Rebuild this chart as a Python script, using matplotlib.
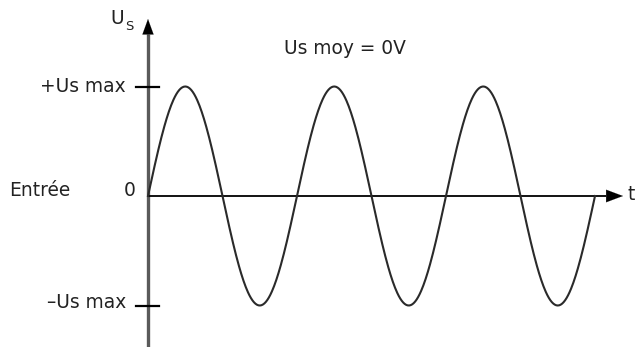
"""Sine wave output diagram: Us oscillating between +Us max and -Us max."""

import matplotlib.pyplot as plt
import numpy as np

# --- Data -----------------------------------------------------------------
# Time in periods, voltage in units of Us max.
N_PERIODS = 3
US_MAX = 1.0
US_MOY = 0.0
t = np.linspace(0, N_PERIODS, 600)
us = US_MAX * np.sin(2 * np.pi * t)

LEVEL_VALUES = [US_MAX, US_MOY, -US_MAX]
LEVEL_LABELS = ["+Us max", "0", "\u2013Us max"]

# --- Layout (pixel mapping) -----------------------------------------------
W, H, DPI = 635, 347, 100
X0_PX, PX_PER_PERIOD = 148, 149      # t = 0 position, width of one period
Y0_PX, PX_PER_UNIT = 196, 109.5      # U = 0 position (from top), amplitude

xlim = (-X0_PX / PX_PER_PERIOD, (W - X0_PX) / PX_PER_PERIOD)
ylim = (-(H - Y0_PX) / PX_PER_UNIT, Y0_PX / PX_PER_UNIT)


def tx(px):
    return (px - X0_PX) / PX_PER_PERIOD


def uy(py):
    return (Y0_PX - py) / PX_PER_UNIT


TXT = "#222222"
FS = 13.4

fig = plt.figure(figsize=(W / DPI, H / DPI), dpi=DPI)
ax = fig.add_axes([0, 0, 1, 1])
ax.set_xlim(*xlim)
ax.set_ylim(*ylim)
ax.axis("off")

# vertical axis (grey, thick) with arrow
ax.plot([0, 0], [ylim[0], uy(34)], color="#5a5a5a", lw=2.4, solid_capstyle="butt")
ax.annotate("", xy=(0, uy(19)), xytext=(0, uy(36)),
            arrowprops=dict(arrowstyle="-|>,head_length=1.1,head_width=0.4",
                            color="black", lw=0.1, shrinkA=0, shrinkB=0))

# horizontal axis with arrow
ax.plot([0, tx(606)], [0, 0], color="black", lw=1.3, solid_capstyle="butt")
ax.annotate("", xy=(tx(623), 0), xytext=(tx(604), 0),
            arrowprops=dict(arrowstyle="-|>,head_length=1.2,head_width=0.45",
                            color="black", lw=0.1, shrinkA=0, shrinkB=0))

# ticks at +/- Us max
for v in (US_MAX, -US_MAX):
    ax.plot([tx(136), tx(159)], [v, v], color="black", lw=1.6)

# sine wave
ax.plot(t, us, color="#2a2a2a", lw=1.5)

# labels
ax.text(tx(126), LEVEL_VALUES[0], LEVEL_LABELS[0], ha="right", va="center",
        fontsize=FS, color=TXT)
ax.text(tx(136), uy(191), LEVEL_LABELS[1], ha="right", va="center",
        fontsize=FS, color=TXT)
ax.text(tx(126), uy(303), LEVEL_LABELS[2], ha="right",
        va="center", fontsize=FS, color=TXT)
ax.text(tx(9), uy(191), "Entrée", ha="left", va="center", fontsize=FS, color=TXT)
ax.text(tx(284), uy(49), f"Us moy = {US_MOY:.0f}V", ha="left", va="center",
        fontsize=FS, color=TXT)
ax.text(tx(627), uy(194), "t", ha="left", va="center", fontsize=FS, color=TXT)
ax.text(tx(110), uy(18), "U", ha="left", va="center", fontsize=FS, color=TXT)
ax.text(tx(125), uy(26), "S", ha="left", va="center", fontsize=FS * 0.7,
        color=TXT)

fig.savefig("out.png", dpi=DPI)
